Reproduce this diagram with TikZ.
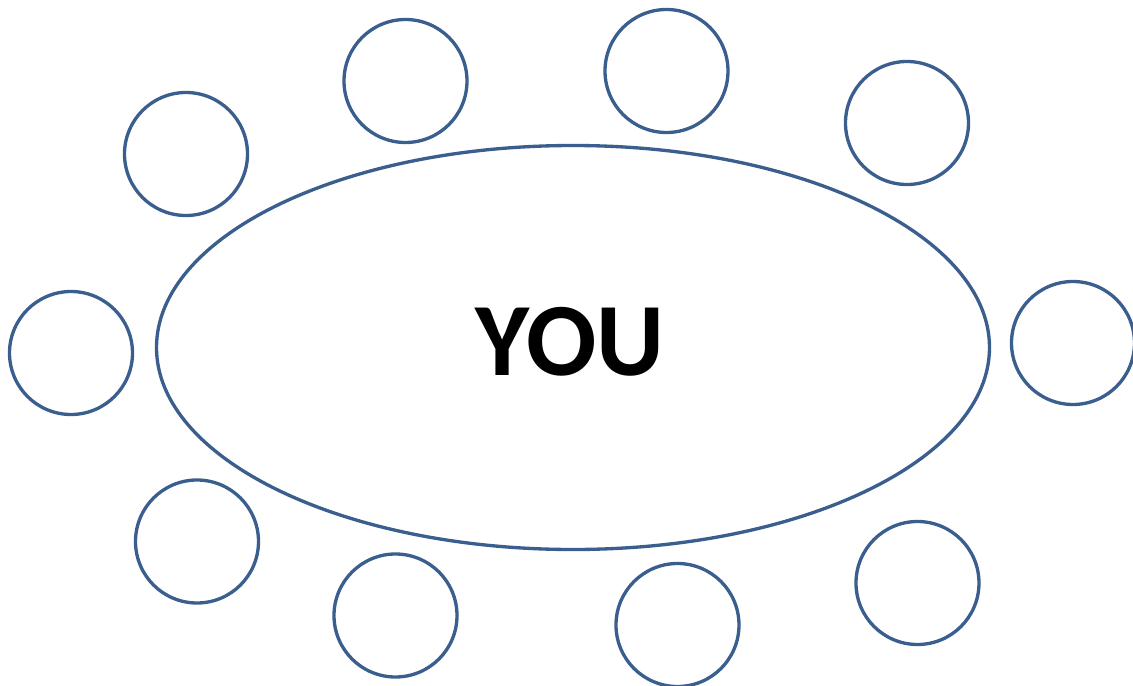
\documentclass[tikz,border=0pt]{standalone}
\usepackage{fontspec}
\newfontfamily\youfont{Carlito}
\usepackage{tikz}
\usetikzlibrary{
shapes.geometric
}
\definecolor{tableblue}{HTML}{3A5E8E}

\begin{document}
\begin{tikzpicture}[
  x=0.75pt, y=-0.75pt,
  tablebox/.style={ellipse, draw=tableblue, line width=2.5pt, inner sep=0pt,
    minimum width=624.75pt, minimum height=303pt},
  seat/.style={circle, draw=tableblue, line width=2.5pt, inner sep=0pt,
    minimum size=92.25pt},
  youtext/.style={font=\youfont\bfseries\fontsize{78}{78}\selectfont}
]
\useasboundingbox (0,0) rectangle (1133,686);

% Table in the middle
\node[tablebox] (tbl) at (573,347.5) {};
\node[youtext] (you) at (570,341.5) {YOU};

% Seats, top row
\node[seat] (s1) at (186,154) {};
\node[seat] (s2) at (405.5,81) {};
\node[seat] (s3) at (666.5,71) {};
\node[seat] (s4) at (907,123) {};

% Seats at the ends
\node[seat] (s5) at (71,353) {};
\node[seat] (s6) at (1073,343) {};

% Seats, bottom row
\node[seat] (s7) at (197,541.5) {};
\node[seat] (s8) at (395.5,615.5) {};
\node[seat] (s9) at (677.5,625) {};
\node[seat] (s10) at (917.5,583) {};

\end{tikzpicture}
\end{document}
